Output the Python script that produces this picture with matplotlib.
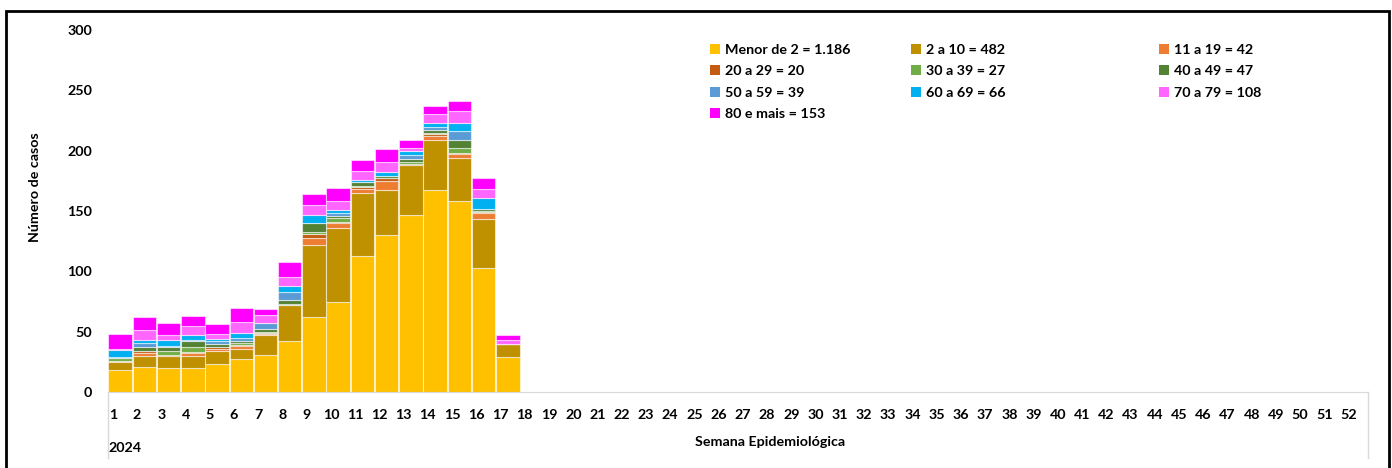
import numpy as np
import matplotlib
matplotlib.use("Agg")
import matplotlib.pyplot as plt
from matplotlib.patches import Rectangle, Patch

plt.rcParams['font.family'] = ['Lato', 'DejaVu Sans']
plt.rcParams['font.weight'] = 'bold'

# casos por semana epidemiologica (semanas 1 a 17 de 2024)
semanas = [str(i) for i in range(1, 53)]
menor2 = [18, 21, 20, 20, 23, 27, 31, 42, 62, 75, 113, 130, 147, 167, 158, 103, 29]
g2_10 = [7, 9, 10, 10, 11, 9, 16, 30, 60, 61, 52, 37, 41, 42, 36, 40, 11]
g11_19 = [1, 2, 0, 2, 2, 2, 1, 0, 6, 4, 3, 8, 0, 3, 3, 5, 0]
g20_29 = [0, 2, 1, 1, 1, 1, 1, 0, 3, 1, 2, 2, 1, 2, 1, 1, 0]
g30_39 = [2, 0, 3, 4, 0, 2, 1, 1, 2, 3, 1, 0, 2, 1, 4, 1, 0]
g40_49 = [0, 3, 3, 5, 3, 1, 2, 3, 7, 2, 3, 2, 2, 2, 7, 2, 0]
g50_59 = [1, 4, 1, 1, 2, 3, 5, 7, 0, 2, 0, 0, 3, 3, 7, 0, 0]
g60_69 = [6, 2, 5, 4, 2, 4, 0, 5, 7, 3, 2, 3, 4, 3, 7, 9, 0]
g70_79 = [1, 8, 4, 8, 4, 9, 7, 7, 8, 7, 7, 9, 2, 7, 10, 7, 3]
g80 = [12, 11, 10, 8, 8, 12, 5, 13, 9, 11, 9, 10, 7, 7, 8, 9, 4]

series = [menor2, g2_10, g11_19, g20_29, g30_39, g40_49, g50_59, g60_69, g70_79, g80]
nomes = ["Menor de 2 = 1.186", "2 a 10 = 482", "11 a 19 = 42", "20 a 29 = 20",
         "30 a 39 = 27", "40 a 49 = 47", "50 a 59 = 39", "60 a 69 = 66",
         "70 a 79 = 108", "80 e mais = 153"]
cores = ["#FFC000", "#BF9000", "#ED7D31", "#C55A11", "#70AD47",
         "#548235", "#5B9BD5", "#00B0F0", "#FF66FF", "#FF00FF"]

fs = 10.3

fig = plt.figure(figsize=(13.92, 4.68), dpi=100)
ax = fig.add_axes([108/1392, 1 - 392/468, 1260/1392, 362/468])

x = np.arange(len(menor2))
bottom = np.zeros(len(menor2))
for vals, cor in zip(series, cores):
    ax.bar(x, vals, width=0.97, bottom=bottom, color=cor,
           edgecolor=(1, 1, 1, 0.55), linewidth=0.8)
    bottom += np.array(vals)

ax.set_xlim(-0.5, 51.5)
ax.set_ylim(0, 300)
ax.set_yticks(range(0, 301, 50))
ax.tick_params(axis='y', length=0, pad=11.5, labelsize=fs)
ax.set_xticks(np.arange(52) - 0.3, semanas)
ax.tick_params(axis='x', length=0, pad=12, labelsize=fs)
for lab in ax.get_xticklabels() + ax.get_yticklabels():
    lab.set_fontweight('bold')

for s in ['top', 'left', 'right']:
    ax.spines[s].set_visible(False)
ax.spines['bottom'].set_color('#D9D9D9')
for xx in [0, 1]:
    ax.plot([xx, xx], [0, -0.182], transform=ax.transAxes, color='#D9D9D9',
            lw=1, clip_on=False)

ax.text(0.0, -0.155, "2024", transform=ax.transAxes, ha='left', va='center',
        fontsize=fs, fontweight='bold')
fig.text(770/1392, 1 - 442/468, "Semana Epidemiológica", ha='center', va='center',
         fontsize=fs, fontweight='bold')
fig.text(35/1392, 1 - 187/468, "Número de casos", rotation=90, ha='center',
         va='center', fontsize=fs, fontweight='bold')

# legenda em tres colunas
colunas = [[0, 3, 6, 9], [1, 4, 7], [2, 5, 8]]
xs = [710/1392, 911/1392, 1159/1392]
for col, xl in zip(colunas, xs):
    hs = [Patch(facecolor=cores[i], edgecolor='none') for i in col]
    fig.legend(hs, [nomes[i] for i in col], loc='upper left',
               bbox_to_anchor=(xl, 1 - 44/468), frameon=False, borderpad=0,
               borderaxespad=0, handlelength=0.7, handleheight=0.7,
               handletextpad=0.35, labelspacing=0.66,
               prop={'size': fs, 'weight': 'bold'})

fig.patches.append(Rectangle((6/1392, -0.02), 1383/1392, 1.02 - 11/468,
                             transform=fig.transFigure, fill=False,
                             edgecolor='black', linewidth=2))

fig.savefig("out.png", dpi=100)
